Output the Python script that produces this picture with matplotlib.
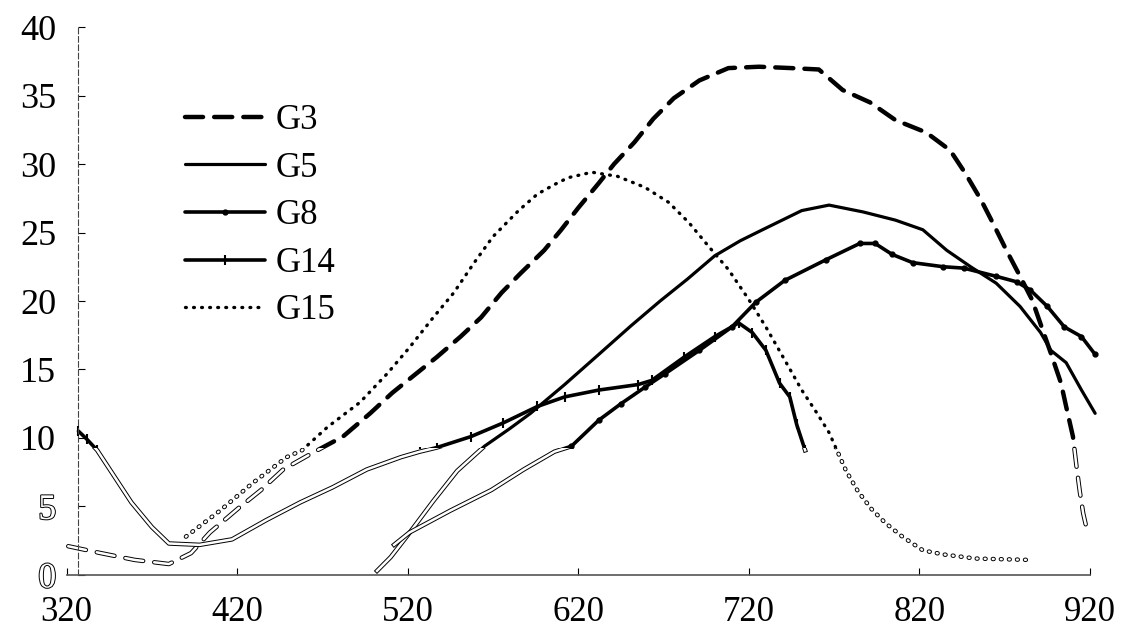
import matplotlib
matplotlib.use('Agg')
import matplotlib.pyplot as plt
import matplotlib.patheffects as pe
from matplotlib.patches import Rectangle

plt.rcParams['font.family'] = ['Liberation Serif', 'DejaVu Serif']
plt.rcParams['lines.scale_dashes'] = False

# values
g3_x = [321, 340, 360, 380, 393, 404, 421, 434, 447, 464, 482, 498, 511, 523, 537, 551, 563, 575,
        586, 600, 610, 620, 632, 641, 653, 664, 676, 691, 708, 726, 745, 761, 775, 791, 806, 824,
        838, 847, 856, 863, 871, 879, 886, 897, 903, 906, 910, 912, 914, 916, 918]
g3_y = [2.1, 1.6, 1.1, 0.8, 1.6, 3.1, 4.9, 6.2, 7.7, 8.9, 10.1, 11.8, 13.3, 14.5, 15.9, 17.4, 18.8, 20.6,
        22.0, 23.7, 25.2, 26.8, 28.6, 30.0, 31.6, 33.3, 34.8, 36.1, 37.0, 37.1, 37.0, 36.9, 35.4, 34.5, 33.2, 32.3,
        31.0, 29.3, 27.4, 25.7, 23.7, 21.8, 20.1, 16.2, 14.0, 12.3, 10.1, 8.0, 6.1, 4.5, 3.4]

g5_x = [502, 510, 520, 535, 549, 565, 580, 592, 612, 632, 651, 668, 684, 700, 715, 728, 751, 767,
        787, 806, 822, 836, 850, 865, 879, 891, 897, 906, 915, 923]
g5_y = [0.3, 1.3, 2.9, 5.4, 7.6, 9.4, 10.7, 11.8, 13.9, 16.1, 18.2, 20.0, 21.6, 23.3, 24.4, 25.2, 26.6, 27.0,
        26.5, 25.9, 25.2, 23.7, 22.5, 21.3, 19.6, 17.7, 16.4, 15.5, 13.5, 11.8]

g8_x = [512, 521, 545, 569, 588, 606, 616, 632, 645, 659, 671, 691, 710, 724, 741, 765, 785, 794,
        804, 816, 834, 846, 865, 877, 885, 895, 905, 915, 923]
g8_y = [2.2, 3.1, 4.7, 6.2, 7.7, 9.0, 9.4, 11.3, 12.5, 13.7, 14.7, 16.4, 18.1, 19.9, 21.5, 23.0, 24.2, 24.2,
        23.4, 22.8, 22.5, 22.4, 21.8, 21.4, 20.8, 19.6, 18.1, 17.4, 16.1]

g14_x = [327, 332, 338, 348, 358, 370, 380, 398, 417, 437, 457, 476, 496, 516, 527, 537, 557, 576,
         596, 612, 632, 655, 663, 682, 700, 714, 722, 730, 738, 744, 748, 753]
g14_y = [10.5, 9.9, 9.1, 7.2, 5.3, 3.5, 2.3, 2.2, 2.6, 4.0, 5.3, 6.4, 7.7, 8.6, 9.0, 9.3, 10.1, 11.1,
         12.3, 13.0, 13.5, 13.9, 14.2, 15.9, 17.4, 18.4, 17.7, 16.4, 14.0, 13.0, 11.0, 9.1]

g15_x = [390, 410, 429, 449, 458, 473, 492, 508, 521, 535, 547, 559, 570, 585, 596, 606, 614, 628,
         643, 659, 673, 685, 697, 708, 720, 730, 741, 751, 760, 767, 772, 777, 784, 792, 800, 810,
         822, 834, 853, 885]
g15_y = [2.8, 4.7, 6.7, 8.6, 9.1, 10.8, 12.6, 14.7, 16.6, 18.8, 20.6, 22.8, 24.7, 26.6, 27.8, 28.5, 29.0, 29.4,
         29.1, 28.3, 27.2, 25.7, 23.9, 22.3, 20.1, 18.1, 15.7, 13.5, 11.8, 10.4, 9.0, 7.6, 6.1, 4.8, 3.8, 2.8,
         1.8, 1.5, 1.2, 1.1]

names = ['G3', 'G5', 'G8', 'G14', 'G15']
xs = [g3_x, g5_x, g8_x, g14_x, g15_x]
ys = [g3_y, g5_y, g8_y, g14_y, g15_y]
styles = [
    dict(ls=(0, (13, 8)), lw=3.2, marker=None),
    dict(ls='-', lw=2.3, marker=None),
    dict(ls='-', lw=2.6, marker='o', ms=3.5),
    dict(ls='-', lw=2.6, marker='|', ms=7, mew=1.5),
    dict(ls=(0, (0.6, 5.2)), lw=2.4, marker=None),
]

fig = plt.figure(figsize=(11.22, 6.28), dpi=100)
ax = fig.add_axes([0.0593, 0.0844, 0.9274, 0.8726])
ax.set_xlim(320, 930)
ax.set_ylim(0, 40)

cut = 9.3  # below this the scan shows the curves as hollow outlines
for name, x, y, st in zip(names, xs, ys, styles):
    top_clip = Rectangle((300, cut), 700, 100, transform=ax.transData)
    low_clip = Rectangle((300, -10), 700, cut + 10, transform=ax.transData)
    l, = ax.plot(x, y, color='black', linestyle=st['ls'], linewidth=st['lw'],
                 marker=st['marker'], markersize=st.get('ms', 0), markeredgewidth=st.get('mew', 1),
                 dash_capstyle='round', solid_capstyle='round', label=name)
    l.set_clip_path(top_clip)
    h, = ax.plot(x, y, color='white', linestyle=st['ls'], linewidth=1.8,
                 dash_capstyle='round',
                 path_effects=[pe.Stroke(linewidth=3.2, foreground='black'), pe.Normal()])
    h.set_clip_path(low_clip)

for s in ['top', 'right']:
    ax.spines[s].set_visible(False)
ax.spines['left'].set_position(('data', 327))
ax.spines['left'].set_linestyle((0, (4, 2)))
ax.spines['left'].set_linewidth(0.8)
ax.spines['left'].set_color('#444444')
ax.spines['left'].set_bounds(0, 40)
ax.spines['bottom'].set_linewidth(1.2)
ax.spines['bottom'].set_color('#555555')
ax.spines['bottom'].set_bounds(320, 920)

xt = list(range(320, 921, 100))
yt = list(range(0, 41, 5))
ax.set_xticks(xt, labels=[str(v) for v in xt])
ax.set_yticks(yt, labels=[str(v) for v in yt])
ax.tick_params(direction='in', length=5, width=0.8, colors='black')
ax.tick_params(axis='x', pad=15, labelsize=25)
ax.tick_params(axis='y', pad=16, labelsize=26)

# the scan shows "0" and "5" as outlines
for lab in ax.get_yticklabels()[:2]:
    lab.set_color('white')
    lab.set_path_effects([pe.Stroke(linewidth=1.4, foreground='black'), pe.Normal()])

ax.legend(loc='upper left', bbox_to_anchor=(185 / 1122, 1 - 104 / 628), bbox_transform=fig.transFigure,
          frameon=False, fontsize=25, handlelength=2.3, handletextpad=0.3, labelspacing=0.42,
          borderpad=0, borderaxespad=0)

fig.savefig('out.png', dpi=100, facecolor='white')
